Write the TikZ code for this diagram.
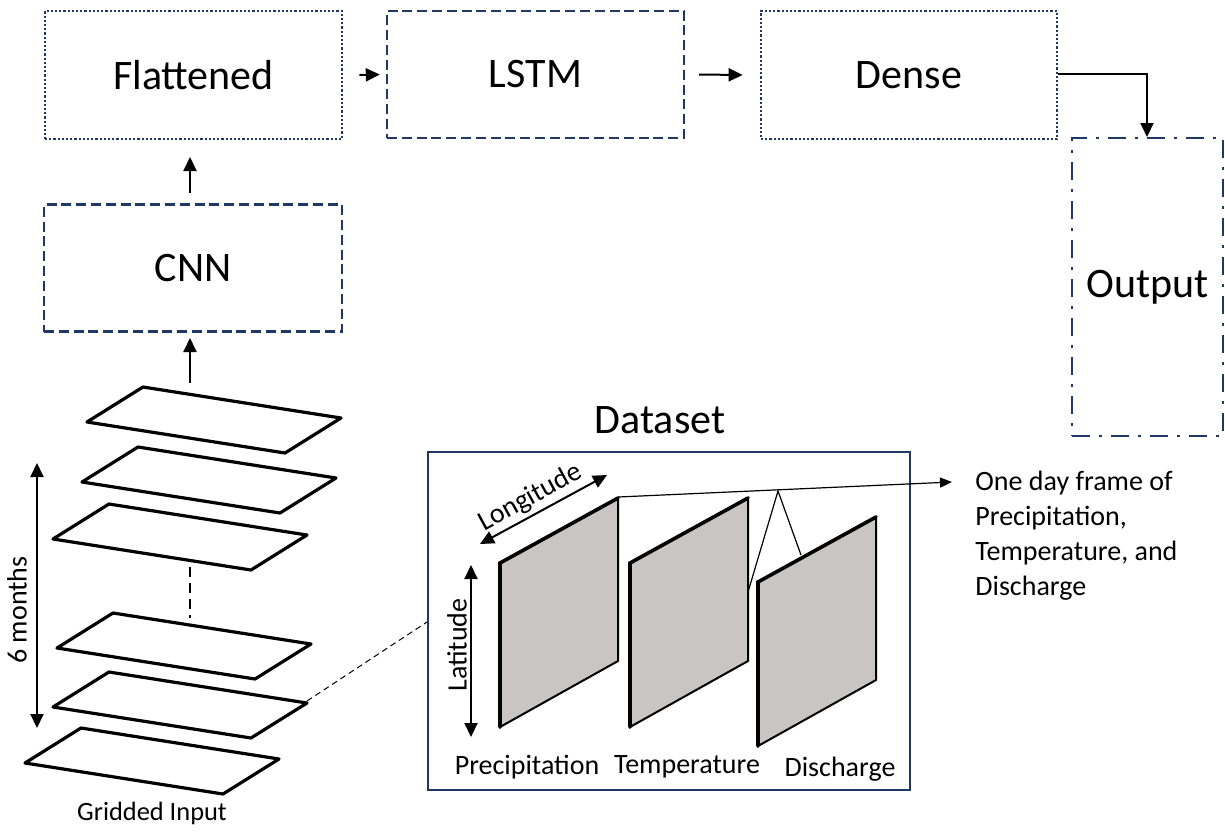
\documentclass[tikz,border=0pt]{standalone}
\usepackage{fontspec}
\setmainfont{Carlito}
\usetikzlibrary{arrows.meta}
\definecolor{navy}{RGB}{31,56,100}
\definecolor{panelgrey}{RGB}{200,197,196}
\tikzset{
  boxbase/.style={draw=navy, line width=1.2pt, font=\fontsize{21}{25}\selectfont, inner sep=0pt},
  dotbox/.style={boxbase, line width=1.4pt, dash pattern=on 1.1pt off 1pt},
  dashbox/.style={boxbase, dash pattern=on 5pt off 2.4pt},
  dashdotbox/.style={boxbase, dash pattern=on 9pt off 4.5pt on 1.5pt off 4.5pt},
  conn/.style={line width=1pt, -{Triangle[length=7pt,width=6.5pt]}},
  dconn/.style={line width=1pt, {Triangle[length=7pt,width=6.5pt]}-{Triangle[length=7pt,width=6.5pt]}},
  plane/.style={draw=black, line width=1.6pt, line join=round},
  panel/.style={fill=panelgrey, draw=black, line width=1pt},
  paneledge/.style={line width=1.8pt, line cap=round},
  small/.style={font=\fontsize{14}{17.5}\selectfont, inner sep=0pt},
}
\begin{document}
\begin{tikzpicture}[x=0.5pt, y=-0.5pt]
\useasboundingbox (0,0) rectangle (1225,831);
% top boxes
\node[dotbox, minimum width=148.5pt, minimum height=64pt] (flat) at (193.5,75) {Flattened};
\node[dashbox, minimum width=149pt, minimum height=63.5pt] (cnn) at (193,268) {CNN};
\node[dashbox, minimum width=148.5pt, minimum height=63.5pt] (lstm) at (535.5,74.5) {LSTM};
\node[dotbox, minimum width=148pt, minimum height=64pt] (dense) at (909,75) {Dense};
\node[dashdotbox, minimum width=75.5pt, minimum height=149pt] (out) at (1147.5,287) {Output};
% connectors
\coordinate (c1) at (190,193);
\coordinate (gtop) at (190,383);
\draw[conn] (c1) -- (c1 |- 0,157);
\draw[conn] ([xshift=8pt]flat.east) -- ([xshift=-3pt]lstm.west);
\draw[conn] ([xshift=7pt]lstm.east) -- ([xshift=-8.5pt]dense.west);
\draw[conn] (dense.east |- 0,74) -- (1147,74) -- (1147,137);
% gridded input planes
\foreach \lx/\ly [count=\i] in {87/422, 82/482, 53/539, 57/648, 53/707, 25/763} {
  \draw[plane] (\lx,\ly) -- ++(56,-35) -- ++(198,31) -- ++(-56,35) -- cycle;
}
\coordinate (p5r) at (307,701);
\draw[conn] (gtop) -- (gtop |- 0,338);
\draw[line width=1.3pt, dash pattern=on 5pt off 3pt] (190,567) -- (190,618);
\draw[dconn] (37,463) -- (37,728);
\node[small, rotate=90] (months) at (17,610) {6 months};
\node[small, font=\fontsize{13.2}{16}\selectfont] (grid) at (152,813) {Gridded Input};
% dataset
\node[draw=navy, line width=1pt, minimum width=241pt, minimum height=169pt] (ds) at (669,621) {};
\node[boxbase, draw=none] (dstitle) at (660,420) {Dataset};
\draw[line width=0.5pt, dash pattern=on 3pt off 2pt] (p5r) -- (ds.west |- 0,622);
% panels
\foreach \x/\y in {500/563, 630/563, 758/582} {
  \draw[panel] (\x,\y) -- ++(118,-65) -- ++(0,163) -- ++(-118,66) -- cycle;
  \draw[paneledge] (\x,\y+164) -- (\x,\y) -- ++(118,-65);
}
\draw[dconn] (471,565) -- (471,737);
\node[small, rotate=90] (lat) at (457,645) {Latitude};
\coordinate (lonA) at (480,544);
\coordinate (lonB) at (607,475);
\draw[dconn] (lonA) -- (lonB);
\path (lonA) -- (lonB) node[small, pos=0.46, sloped, above=2pt] (lon) {Longitude};
\node[small] (prec) at (527,767) {Precipitation};
\node[small] (temp) at (687,767) {Temperature};
\node[small] (dis) at (840,769) {Discharge};
% frame pointer
\coordinate (pk) at (618,497);
\coordinate (apex) at (778,491);
\draw[line width=0.6pt, -{Triangle[length=6pt,width=5pt]}] (pk) -- (952,482);
\draw[line width=0.6pt] (748,592) -- (apex) -- (801,555);
\node[small, align=left, anchor=north west] (note) at (975,471) {One day frame of\\Precipitation,\\Temperature, and\\Discharge};
\end{tikzpicture}
\end{document}
